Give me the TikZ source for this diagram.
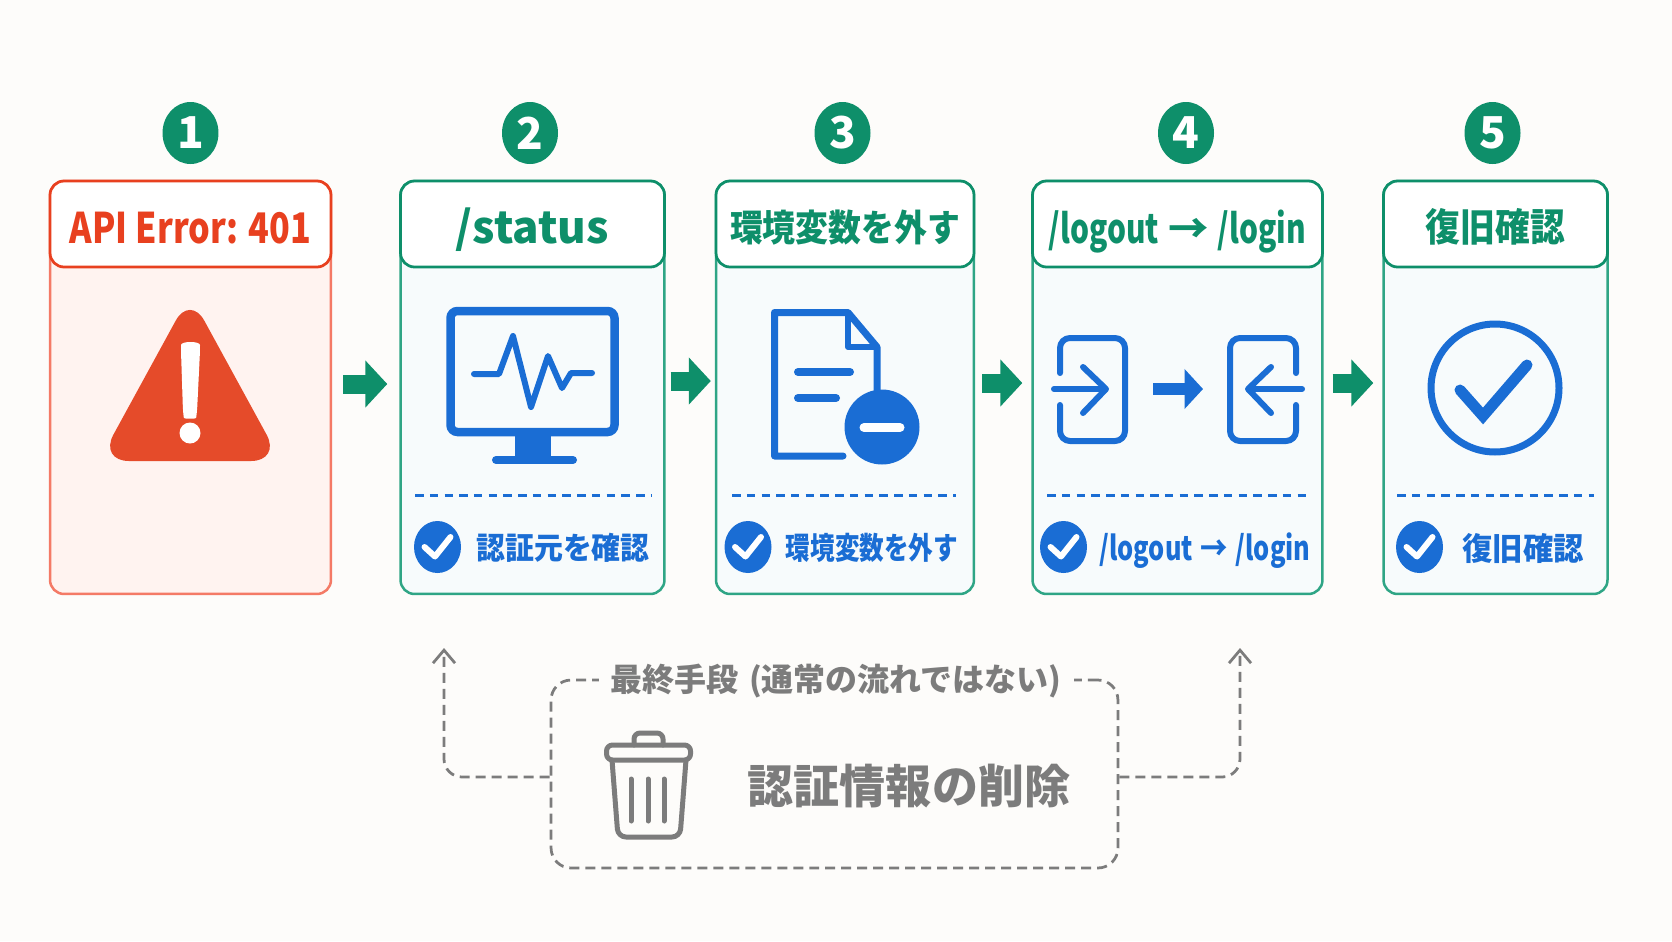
\documentclass[tikz,border=0pt]{standalone}
\usepackage{fontspec}
\setmainfont{Noto Sans CJK JP}
\usepackage{xcolor}
\usetikzlibrary{arrows.meta, positioning, shapes.geometric}
\definecolor{paperbg}{HTML}{FDFCFA}
\definecolor{stepgreen}{HTML}{0E8F6A}
\definecolor{cardgreen}{HTML}{2FA585}
\definecolor{cardfill}{HTML}{F7FBFC}
\definecolor{errred}{HTML}{E8401F}
\definecolor{errline}{HTML}{F47A66}
\definecolor{errfill}{HTML}{FFF3F0}
\definecolor{warnred}{HTML}{E54B2A}
\definecolor{iconblue}{HTML}{1A6DD4}
\definecolor{lastgray}{HTML}{7C7C7C}
\newcommand{\fsize}[1]{\bfseries\fontsize{#1}{#1}\selectfont}
\tikzset{
  badge/.style={ellipse, fill=stepgreen, text=white, minimum width=1.12cm, minimum height=1.24cm, inner sep=0pt, font=\fsize{25}},
  stepcard/.style={draw=cardgreen, fill=cardfill, line width=0.05cm, rounded corners=0.28cm, minimum height=8.26cm, inner sep=0pt},
  stephead/.style={draw=stepgreen, fill=white, text=stepgreen, line width=0.055cm, rounded corners=0.28cm, minimum height=1.72cm, inner sep=0pt, text height=0.76cm, text depth=0pt},
  errcard/.style={stepcard, draw=errline, fill=errfill},
  errhead/.style={stephead, draw=errred, text=errred},
  flow/.style={-{Triangle[length=0.44cm,width=0.92cm]}, stepgreen, line width=0.38cm},
  icon/.style={iconblue, line width=0.12cm, line cap=round, line join=round},
  divider/.style={iconblue, line width=0.06cm, dash pattern=on 0.17cm off 0.125cm},
  tick/.style={ellipse, fill=iconblue, minimum width=0.94cm, minimum height=1.04cm, inner sep=0pt},
  tickmark/.style={white, line width=0.12cm, line cap=round, line join=round},
  foot/.style={text=iconblue, inner sep=0pt},
  lastline/.style={lastgray, line width=0.055cm, dash pattern=on 0.2cm off 0.12cm, rounded corners=0.36cm},
  trash/.style={lastgray, line width=0.1cm, line join=round, line cap=round},
}
\begin{document}
\begin{tikzpicture}[x=0.02cm, y=-0.02cm]
  \useasboundingbox[fill=paperbg] (0,0) rectangle (1672,941);

  % step numbers
  \node[badge] (num1) at (190.5,133) {1};
  \node[badge] (num2) at (530,133) {2};
  \node[badge] (num3) at (842.5,133) {3};
  \node[badge] (num4) at (1186,133) {4};
  \node[badge] (num5) at (1492.5,133) {5};

  % cards, x ranges 49-332, 400-665, 715-975, 1032-1323, 1383-1608
  \node[errcard, minimum width=5.62cm] (card1) at (190.5,387.5) {};
  \node[stepcard, minimum width=5.28cm] (card2) at (532.5,387.5) {};
  \node[stepcard, minimum width=5.16cm] (card3) at (845,387.5) {};
  \node[stepcard, minimum width=5.8cm] (card4) at (1177.5,387.5) {};
  \node[stepcard, minimum width=4.48cm] (card5) at (1495.5,387.5) {};

  % headers
  \node[errhead, minimum width=5.62cm, font=\fsize{24}] (head1) at (190.5,224) {\scalebox{0.81}[1]{API Error: 401}};
  \node[stephead, minimum width=5.28cm, font=\fsize{25}] (head2) at (532.5,224) {/status};
  \node[stephead, minimum width=5.16cm, font=\fsize{21}, text height=0.68cm] (head3) at (845,224) {\scalebox{0.89}[1]{環境変数を外す}};
  \node[stephead, minimum width=5.8cm, font=\fsize{23}] (head4) at (1177.5,224) {\scalebox{0.74}[1]{/logout} → \scalebox{0.74}[1]{/login}};
  \node[stephead, minimum width=4.48cm, font=\fsize{22}, text height=0.68cm] (head5) at (1495.5,224) {\scalebox{0.9}[1]{復旧確認}};

  % arrows between the cards
  \draw[flow, shorten <=0.22cm, shorten >=0.24cm] ([yshift=0.07cm]card1.east) -- ([yshift=0.07cm]card2.west);
  \draw[flow, shorten <=0.1cm, shorten >=0.08cm] ([yshift=0.13cm]card2.east) -- ([yshift=0.13cm]card3.west);
  \draw[flow, shorten <=0.14cm, shorten >=0.18cm] ([yshift=0.09cm]card3.east) -- ([yshift=0.09cm]card4.west);
  \draw[flow, shorten <=0.18cm, shorten >=0.18cm] ([yshift=0.09cm]card4.east) -- ([yshift=0.09cm]card5.west);

  % warning sign
  \fill[warnred, rounded corners=0.6cm] (190,294.5) -- (281,461) -- (99,461) -- cycle;
  \fill[white, rounded corners=0.12cm] (181,351) .. controls (181,341) and (200,341) .. (200,351) -- (197,412) .. controls (196,419) and (184,419) .. (183,412) -- cycle;
  \fill[white] (190,433) circle (0.21cm);

  % monitor
  \draw[iconblue, line width=0.17cm, rounded corners=0.14cm] (450.5,311) rectangle (614.5,432);
  \fill[iconblue] (515,432) rectangle (551,460);
  \draw[iconblue, line width=0.16cm, line cap=round] (496,460) -- (573,460);
  \draw[icon] (474,374) -- (499,374) -- (513,336) -- (531,407) -- (548,356) -- (562,388) -- (571,373) -- (592,373);

  % document with minus
  \draw[iconblue, line width=0.14cm, line join=round, line cap=round] (843,456) -- (774.5,456) -- (774.5,312.5) -- (848,312.5) -- (877,347) -- (877,390);
  \draw[iconblue, line width=0.12cm, line join=round] (848,312.5) -- (848,347) -- (877,347);
  \draw[iconblue, line width=0.16cm, line cap=round] (798,372) -- (850,372);
  \draw[iconblue, line width=0.16cm, line cap=round] (798,398) -- (836,398);
  \fill[iconblue] (882,427) circle (0.75cm);
  \draw[white, line width=0.18cm, line cap=round] (864,427.5) -- (900,427.5);

  % logout and login
  \draw[icon, rounded corners=0.2cm] (1060,373) -- (1060,338) -- (1125,338) -- (1125,441) -- (1060,441) -- (1060,405);
  \draw[icon] (1054,389) -- (1105,389);
  \draw[icon] (1083,367) -- (1106,389) -- (1083,413);
  \coordinate (outicon) at (1153,389);
  \coordinate (inicon) at (1203,389);
  \draw[-{Triangle[length=0.37cm,width=0.78cm]}, iconblue, line width=0.24cm] (outicon) -- (inicon);
  \draw[icon, rounded corners=0.2cm] (1296,373) -- (1296,338) -- (1230,338) -- (1230,441) -- (1296,441) -- (1296,405);
  \draw[icon] (1302,389) -- (1250,389);
  \draw[icon] (1271,367) -- (1248,389) -- (1271,413);

  % big check
  \draw[iconblue, line width=0.14cm] (1495,388) circle (1.28cm);
  \draw[icon, line width=0.22cm, line cap=round, line join=miter] (1460,390) -- (1483,416) -- (1527,365);

  % dashes above the bottom lines
  \draw[divider] (415,495) -- (651,495);
  \draw[divider] (732,495) -- (956,495);
  \draw[divider] (1047,495) -- (1308,495);
  \draw[divider] (1397,495) -- (1594,495);

  % bottom lines of the cards
  \node[tick] (tick2) at (437.5,547) {};
  \draw[tickmark] ([shift={(-0.26cm,0cm)}]tick2.center) -- ([shift={(-0.05cm,-0.19cm)}]tick2.center) -- ([shift={(0.26cm,0.2cm)}]tick2.center);
  \node[foot, font=\fsize{17.5}] (foot2) at (563,548) {\scalebox{0.94}[1]{認証元を確認}};
  \node[tick] (tick3) at (748,547) {};
  \draw[tickmark] ([shift={(-0.26cm,0cm)}]tick3.center) -- ([shift={(-0.05cm,-0.19cm)}]tick3.center) -- ([shift={(0.26cm,0.2cm)}]tick3.center);
  \node[foot, font=\fsize{17.5}] (foot3) at (872,548) {\scalebox{0.8}[1]{環境変数を外す}};
  \node[tick] (tick4) at (1063.5,547) {};
  \draw[tickmark] ([shift={(-0.26cm,0cm)}]tick4.center) -- ([shift={(-0.05cm,-0.19cm)}]tick4.center) -- ([shift={(0.26cm,0.2cm)}]tick4.center);
  \node[foot, font=\fsize{19}] (foot4) at (1205,551) {\scalebox{0.76}[1]{/logout} \scalebox{0.82}[1]{→} \scalebox{0.76}[1]{/login}};
  \node[tick] (tick5) at (1419.5,547) {};
  \draw[tickmark] ([shift={(-0.26cm,0cm)}]tick5.center) -- ([shift={(-0.05cm,-0.19cm)}]tick5.center) -- ([shift={(0.26cm,0.2cm)}]tick5.center);
  \node[foot, font=\fsize{18}] (foot5) at (1523,548) {\scalebox{0.96}[1]{復旧確認}};

  % last resort box
  \node[draw=lastgray, line width=0.055cm, dash pattern=on 0.2cm off 0.12cm, rounded corners=0.4cm, minimum width=11.34cm, minimum height=3.76cm, inner sep=0pt] (lastbox) at (834.5,774) {};
  \node[fill=paperbg, text=lastgray, font=\fsize{18.2}, inner xsep=0.24cm, inner ysep=0.04cm] (lasttitle) at (836,681) {最終手段\,\,(通常の流れではない)};
  \node[text=lastgray, font=\fsize{26.2}, inner sep=0pt] (lastname) at (909,786) {認証情報の削除};
  \coordinate (backleft) at (444,648);
  \coordinate (backright) at (1240,648);
  \draw[lastline, -{Straight Barb[length=0.26cm,width=0.44cm]}] ([yshift=-0.06cm]lastbox.west) -| (backleft);
  \draw[lastline, -{Straight Barb[length=0.26cm,width=0.44cm]}] ([yshift=-0.06cm]lastbox.east) -| (backright);

  % trash can
  \draw[trash, rounded corners=0.12cm] (606.5,745) rectangle (690.5,760);
  \draw[trash, rounded corners=0.12cm] (634,745) -- (634,733) -- (663,733) -- (663,745);
  \draw[trash, rounded corners=0.16cm] (612,760) -- (618,837) -- (680,837) -- (686,760);
  \draw[trash] (631,779) -- (631,821);
  \draw[trash] (648,779) -- (648,821);
  \draw[trash] (664,779) -- (664,821);
\end{tikzpicture}
\end{document}
